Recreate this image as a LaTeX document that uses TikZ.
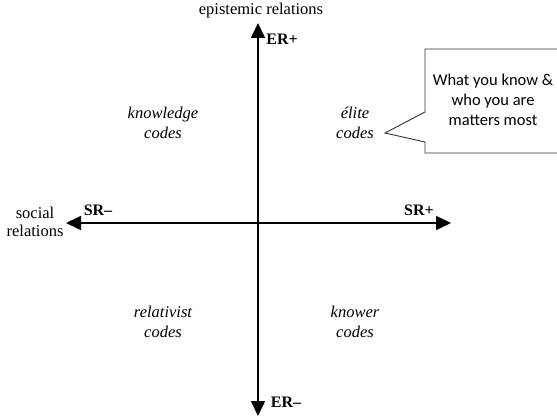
\documentclass[tikz,border=0pt]{standalone}
\usepackage{fontspec}
\setmainfont{Liberation Serif}
\newfontfamily\calloutfont{Carlito}
\usetikzlibrary{arrows.meta, positioning}
\tikzset{
  axis/.style = {line width=1.6pt, -{Triangle[length=15pt, width=14pt]}},
  axislabel/.style = {font=\fontsize{16.5}{18}\selectfont, align=center,
    inner sep=0pt},
  pole/.style = {font=\bfseries\fontsize{16}{19}\selectfont, inner sep=0pt},
  codes/.style = {font=\itshape\fontsize{16.5}{20}\selectfont, align=center,
    inner sep=0pt},
  bubble/.style = {draw=black!80, line width=0.9pt},
  bubbletext/.style = {font=\calloutfont\fontsize{16.5}{20}\selectfont,
    align=center, inner sep=0pt}
}

\begin{document}
\begin{tikzpicture}[x=1pt, y=1pt]
\useasboundingbox (0,0) rectangle (557,418);
% axes
\coordinate (centre) at (258,195);
\coordinate (ertop) at (258,395);
\coordinate (erbot) at (258,2);
\coordinate (srleft) at (66,195);
\coordinate (srright) at (451,195);
\draw [axis] (centre) -- (ertop);
\draw [axis] (centre) -- (erbot);
\draw [axis] (centre) -- (srleft);
\draw [axis] (centre) -- (srright);
% axis names and poles
\node [axislabel] (epist) at (261,407) {epistemic relations};
\node [axislabel] (social) at (35,196) {social\\relations};
\node [pole] (erplus) at (282,379) {ER+};
\node [pole] (erminus) at (286,16) {ER--};
\node [pole] (srminus) at (98,208) {SR--};
\node [pole] (srplus) at (419,208) {SR+};
% quadrants
\node [codes] (knowledge) at (163,295) {knowledge\\codes};
\node [codes] (elite) at (355,295) {\'elite\\codes};
\node [codes] (relativist) at (163,96) {relativist\\codes};
\node [codes] (knower) at (355,96) {knower\\codes};
% callout
\draw [bubble] (565,369) -- (425,369) -- (425,306) -- (385,285)
  -- (425,276) -- (425,265) -- (565,265);
\node [bubbletext] (motto) at (493,318) {What you know \&\\who you are\\matters most};
\end{tikzpicture}
\end{document}
